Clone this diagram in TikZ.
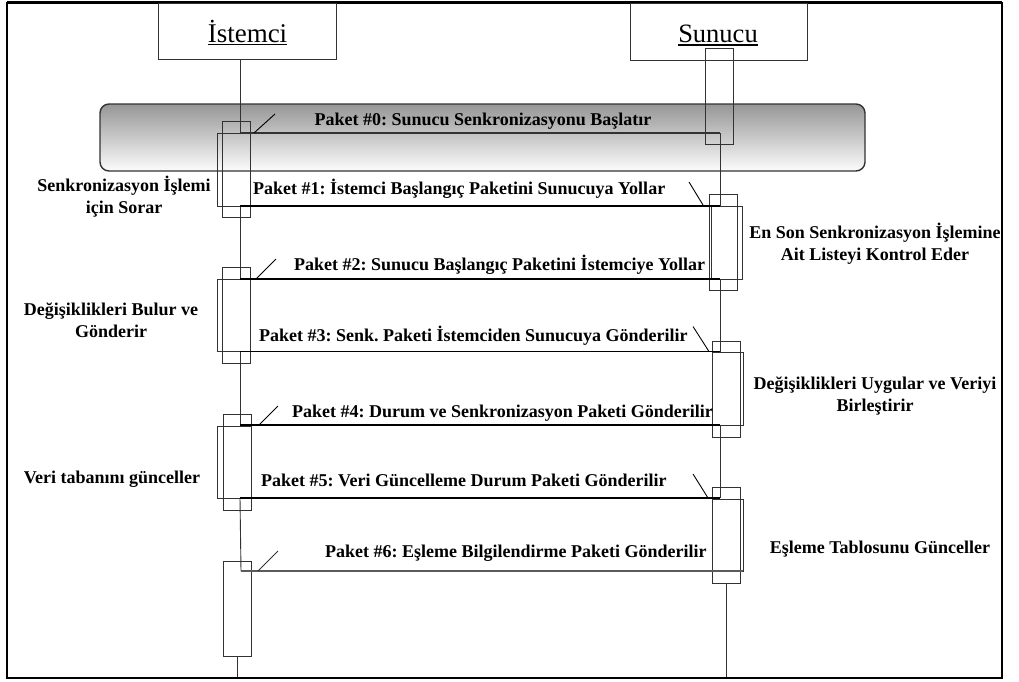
\documentclass[tikz,border=0pt]{standalone}
\usepackage{fontspec}
\setmainfont{Liberation Serif}
\frenchspacing
\definecolor{ln}{RGB}{50,50,50}
\definecolor{bandtop}{RGB}{150,150,150}
\definecolor{bandbot}{RGB}{252,252,252}
\begin{document}
\begin{tikzpicture}[x=1pt,y=-1pt,
  life/.style={draw=ln, line width=0.9pt},
  act/.style={draw=ln, line width=0.9pt},
  msg/.style={draw=black, line width=1.8pt},
  msgthin/.style={draw=ln, line width=1.2pt},
  barb/.style={draw=black, line width=0.9pt},
  headbox/.style={draw=ln, line width=1pt, inner sep=0, minimum width=178pt, minimum height=56pt},
  ttl/.style={font=\fontsize{27}{30}\selectfont, inner sep=0, anchor=base},
  pkt/.style={font=\bfseries\fontsize{18}{22}\selectfont, inner sep=0, anchor=base west},
  note/.style={font=\bfseries\fontsize{18}{22}\selectfont, inner sep=0, align=center}
]
\useasboundingbox (0,0) rectangle (1019,681);

% outer frame
\draw[black, line width=1.3pt] (7,2.5) rectangle (1002,678);
\draw[black, line width=2.6pt] (7,2.5) -- (1002,2.5);
\draw[black, line width=2.6pt] (7,678) -- (1002,678);

% shaded band of the opening packet
\draw[draw=ln, line width=1.4pt, rounded corners=9pt, top color=bandtop, bottom color=bandbot]
  (100,104) rectangle (865,171);

% participant boxes
\node[headbox] (cli) at (247,31) {};
\node[headbox, minimum width=177pt, minimum height=57pt] (srv) at (718.5,31.5) {};
\node[ttl] (cliT) at (247.5,42) {İstemci};
\node[ttl, font=\fontsize{26.5}{30}\selectfont] (srvT) at (718,42.5) {Sunucu};
\draw[black, line width=1.8pt] ([yshift=-2.5pt]cliT.base west) -- ([yshift=-2.5pt]cliT.base east);
\draw[black, line width=1.8pt] ([yshift=-2.5pt]srvT.base west) -- ([yshift=-2.5pt]srvT.base east);

% lifeline points
\coordinate (c0) at (240,59);
\coordinate (m0a) at (720,133);  \coordinate (m0b) at (240,133);
\coordinate (m1a) at (240,206);  \coordinate (m1b) at (720,206);
\coordinate (m2a) at (720,279);  \coordinate (m2b) at (240,279);
\coordinate (m3a) at (240,351.5);\coordinate (m3b) at (720,351.5);
\coordinate (m4a) at (720,425);  \coordinate (m4b) at (240,425);
\coordinate (m5a) at (240,498);  \coordinate (m5b) at (720,498);
\coordinate (m6a) at (743,571);  \coordinate (m6b) at (241,571);
\coordinate (cEndTop) at (237,656); \coordinate (cEnd) at (237,677);
\coordinate (sEndTop) at (726,583); \coordinate (sEnd) at (726,677);

% lifelines
\draw[life] (c0) -- (m0b);
\draw[life] (m1a) -- (m2b);
\draw[life] (m3a) -- (m4b);
\draw[life] (m5a) -- (m6b);
\draw[life] (cEndTop) -- (cEnd);
\draw[life] (m0a) -- (m1b);
\draw[life] (m2a) -- (m3b);
\draw[life] (m4a) -- (m5b);
\draw[life] (sEndTop) -- (sEnd);

% activation bars, client side
\draw[act] (222,121) rectangle (250,217);
\draw[act] (217,133) rectangle (250,206);
\draw[act] (222,267) rectangle (250,363);
\draw[act] (217,279) rectangle (250,351.5);
\draw[act] (223,414) rectangle (251,510);
\draw[act] (217,426) rectangle (251,498);
\draw[act] (223,561) rectangle (251,656);

% activation bars, server side
\draw[act] (705,48) rectangle (733,144);
\draw[act] (709,194) rectangle (737,290);
\draw[act] (711,206) rectangle (742,279);
\draw[act] (712,341) rectangle (740,437);
\draw[act] (712,352) rectangle (743,425);
\draw[act] (712,487) rectangle (740,583);
\draw[act] (712,499) rectangle (743,571);

% messages with half stick heads
\draw[msgthin] (m0a) -- (m0b);
\draw[barb] ([shift={(14,0)}]m0b) -- ++(21,-19);
\draw[msg] (m1a) -- (m1b);
\draw[barb] ([shift={(-17,-1)}]m1b) -- ++(-14,-23);
\draw[msg] (m2a) -- (m2b);
\draw[barb] ([shift={(16,0)}]m2b) -- ++(20,-20);
\draw[msg] (m3a) -- (m3b);
\draw[barb] ([shift={(-11,0)}]m3b) -- ++(-16,-25);
\draw[msg] (m4a) -- (m4b);
\draw[barb] ([shift={(19,0)}]m4b) -- ++(19,-19);
\draw[msg] (m5a) -- (m5b);
\draw[barb] ([shift={(-12,0)}]m5b) -- ++(-15,-24);
\draw[draw=ln!80, line width=1.1pt] (m6a) -- (m6b);
\draw[draw=ln, line width=0.9pt] ([shift={(17,0)}]m6b) -- ++(20,-20);

% packet labels
\node[pkt, anchor=base] (p0) at (483,125) {Paket \#0: Sunucu Senkronizasyonu Başlatır};
\node[pkt] (p1) at (253,194) {Paket \#1: İstemci Başlangıç Paketini Sunucuya Yollar};
\node[pkt] (p2) at (294,270) {Paket \#2: Sunucu Başlangıç Paketini İstemciye Yollar};
\node[pkt] (p3) at (259,341) {Paket \#3: Senk. Paketi İstemciden Sunucuya Gönderilir};
\node[pkt] (p4) at (292,417) {Paket \#4: Durum ve Senkronizasyon Paketi Gönderilir};
\node[pkt] (p5) at (261,486) {Paket \#5: Veri Güncelleme Durum Paketi Gönderilir};
\node[pkt] (p6) at (325,557) {Paket \#6: Eşleme Bilgilendirme Paketi Gönderilir};

% step descriptions
\node[note] (n1) at (124,197) {Senkronizasyon İşlemi\\için Sorar};
\node[note] (n2) at (111,320) {Değişiklikleri Bulur ve\\Gönderir};
\node[note, anchor=base] (n3) at (112,483) {Veri tabanını günceller};
\node[note] (n4) at (875,243.5) {En Son Senkronizasyon İşlemine\\Ait Listeyi Kontrol Eder};
\node[note] (n5) at (875,396) {Değişiklikleri Uygular ve Veriyi\\Birleştirir};
\node[note, anchor=base] (n6) at (880,553) {Eşleme Tablosunu Günceller};
\end{tikzpicture}
\end{document}
